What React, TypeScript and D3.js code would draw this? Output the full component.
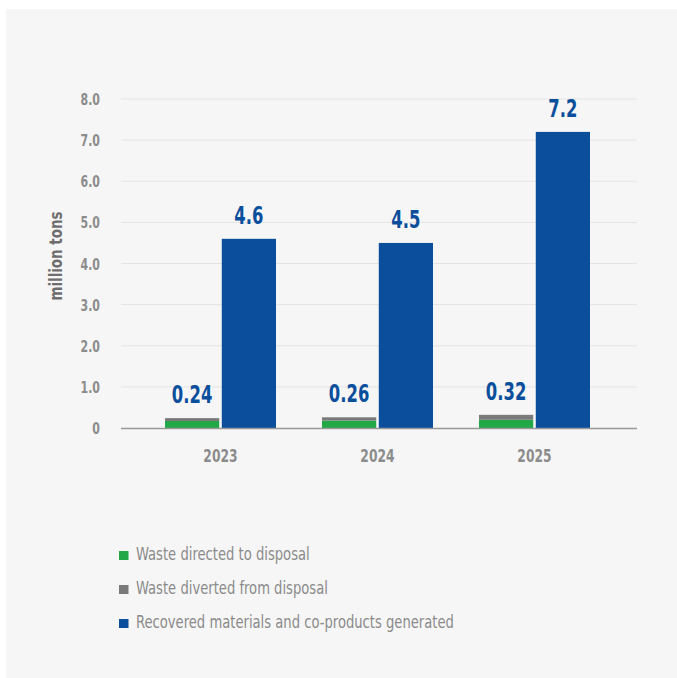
import React from "react";
import * as d3 from "d3";

const years = ["2023", "2024", "2025"];
const directedToDisposal = [0.17, 0.18, 0.2];
const divertedFromDisposal = [0.07, 0.08, 0.12];
const wasteTotalLabels = ["0.24", "0.26", "0.32"];
const recoveredMaterials = [4.6, 4.5, 7.2];
const recoveredLabels = ["4.6", "4.5", "7.2"];
const yTicks = [0, 1, 2, 3, 4, 5, 6, 7, 8];
const yTickLabels = ["0", "1.0", "2.0", "3.0", "4.0", "5.0", "6.0", "7.0", "8.0"];
const legendItems = [
  { label: "Waste directed to disposal", color: "#22a847" },
  { label: "Waste diverted from disposal", color: "#7a7a7a" },
  { label: "Recovered materials and co-products generated", color: "#0b4f9c" },
];

const FONT = "'DejaVu Sans Condensed', 'Liberation Sans Narrow', sans-serif";
const GREEN = "#22a847";
const GRAY = "#7a7a7a";
const BLUE = "#0b4f9c";

function SText(props: any) {
  const { x, y, sx, rotate, children, ...rest } = props;
  const tr = `translate(${x},${y})${rotate ? ` rotate(${rotate})` : ""} scale(${sx},1)`;
  return (
    <text transform={tr} {...rest}>
      {children}
    </text>
  );
}

export default function App() {
  const W = 677;
  const H = 678;
  const y = d3.scaleLinear().domain([0, 8]).range([428, 99]);
  const x = d3.scaleBand().domain(years).range([142, 613]).paddingInner(0).paddingOuter(0);
  const groupW = 111;
  const sub = d3.scaleBand().domain(["waste", "recovered"]).range([0, groupW]).paddingInner(0.045);
  const gx = (yr: string) => (x(yr) as number) + (x.bandwidth() - groupW) / 2;

  return (
    <svg
      width={W}
      height={H}
      style={{ position: "absolute", left: 0, top: 0, display: "block" }}
      fontFamily={FONT}
    >
      <rect x={0} y={0} width={W} height={H} fill="#ffffff" />
      <rect x={6} y={9} width={W} height={H} fill="#f6f6f6" />

      {yTicks.map((t, i) =>
        t === 0 ? null : (
          <line key={"g" + i} x1={121} x2={637} y1={y(t)} y2={y(t)} stroke="#e4e4e4" strokeWidth={1} />
        )
      )}
      {yTicks.map((t, i) => (
        <SText
          key={"yt" + i}
          x={100}
          y={y(t) + 6}
          sx={0.74}
          textAnchor="end"
          fontSize={16.5}
          fontWeight="bold"
          fill="#8c8c8c"
        >
          {yTickLabels[i]}
        </SText>
      ))}
      <SText
        x={62}
        y={256}
        rotate={-90}
        sx={0.88}
        textAnchor="middle"
        fontSize={17}
        fontWeight="bold"
        fill="#6e6e6e"
      >
        million tons
      </SText>

      {years.map((yr, i) => {
        const x0 = gx(yr);
        const wx = x0 + (sub("waste") as number);
        const rx = x0 + (sub("recovered") as number);
        const bw = sub.bandwidth();
        const g = directedToDisposal[i];
        const d = divertedFromDisposal[i];
        const r = recoveredMaterials[i];
        return (
          <g key={yr}>
            <rect x={wx} y={y(g)} width={bw} height={y(0) - y(g)} fill={GREEN} />
            <rect x={wx} y={y(g + d)} width={bw} height={y(g) - y(g + d)} fill={GRAY} />
            <rect x={rx} y={y(r)} width={bw} height={y(0) - y(r)} fill={BLUE} />
            <SText
              x={wx + bw / 2}
              y={y(g + d) - 15}
              sx={0.73}
              textAnchor="middle"
              fontSize={25}
              fontWeight="bold"
              fill={BLUE}
            >
              {wasteTotalLabels[i]}
            </SText>
            <SText
              x={rx + bw / 2}
              y={y(r) - 15}
              sx={0.73}
              textAnchor="middle"
              fontSize={25}
              fontWeight="bold"
              fill={BLUE}
            >
              {recoveredLabels[i]}
            </SText>
            <SText
              x={x0 + groupW / 2}
              y={462}
              sx={0.74}
              textAnchor="middle"
              fontSize={18.5}
              fontWeight="bold"
              fill="#8c8c8c"
            >
              {yr}
            </SText>
          </g>
        );
      })}

      <line x1={121} x2={637} y1={y(0) + 0.5} y2={y(0) + 0.5} stroke="#999999" strokeWidth={1.3} />

      {legendItems.map((it, i) => (
        <g key={it.label} transform={`translate(119, ${551 + i * 34})`}>
          <rect x={0} y={0} width={9.5} height={9} fill={it.color} />
          <SText x={17} y={9} sx={0.86} fontSize={17} fill="#8a8a8a">
            {it.label}
          </SText>
        </g>
      ))}
    </svg>
  );
}
